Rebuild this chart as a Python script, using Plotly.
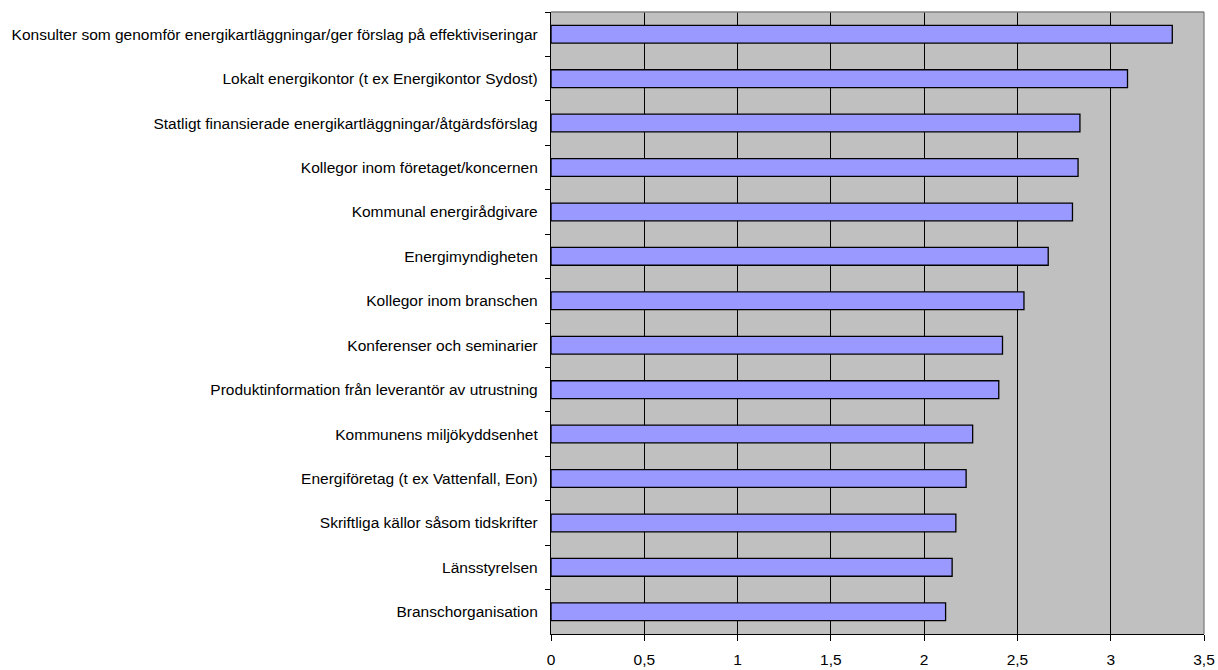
import plotly.graph_objects as go

# Informationskällor, uppifrån och ned
kallor = [
    "Konsulter som genomför energikartläggningar/ger förslag på effektiviseringar",
    "Lokalt energikontor (t ex Energikontor Sydost)",
    "Statligt finansierade energikartläggningar/åtgärdsförslag",
    "Kollegor inom företaget/koncernen",
    "Kommunal energirådgivare",
    "Energimyndigheten",
    "Kollegor inom branschen",
    "Konferenser och seminarier",
    "Produktinformation från leverantör av utrustning",
    "Kommunens miljökyddsenhet",
    "Energiföretag (t ex Vattenfall, Eon)",
    "Skriftliga källor såsom tidskrifter",
    "Länsstyrelsen",
    "Branschorganisation",
]
medelvarde = [3.33, 3.09, 2.835, 2.825, 2.795, 2.665, 2.535, 2.42, 2.40, 2.26, 2.225, 2.17, 2.15, 2.115]

x_ticks = [0, 0.5, 1, 1.5, 2, 2.5, 3, 3.5]

fig = go.Figure(
    go.Bar(
        x=medelvarde,
        y=kallor,
        orientation="h",
        marker=dict(color="#9999FF", line=dict(color="#000000", width=1.3)),
        width=0.4,
    )
)

font = dict(family="Liberation Sans, Arial, sans-serif", size=15.5, color="#000000")

fig.update_layout(
    width=1218,
    height=670,
    margin=dict(l=551, r=14, t=12, b=36),
    paper_bgcolor="#FFFFFF",
    plot_bgcolor="#C0C0C0",
    separators=", ",
    showlegend=False,
    font=font,
)

fig.update_xaxes(
    range=[0, 3.5],
    tickvals=x_ticks,
    automargin=False,
    showgrid=True,
    gridcolor="#000000",
    gridwidth=1,
    zeroline=False,
    showline=True,
    linecolor="#000000",
    linewidth=1.3,
    ticks="outside",
    ticklen=6,
    tickcolor="#000000",
    ticklabelstandoff=5,
    tickfont=font,
)

fig.update_yaxes(
    autorange="reversed",
    type="category",
    tickson="boundaries",
    automargin=False,
    showgrid=False,
    zeroline=False,
    showline=True,
    linecolor="#000000",
    linewidth=1.3,
    ticks="outside",
    ticklen=5,
    tickcolor="#000000",
    ticklabelstandoff=9,
    tickfont=font,
)

# Grå ram längs diagrammets övre och högra kant
fig.add_shape(type="line", xref="paper", yref="paper", x0=0, x1=1, y0=1, y1=1,
              line=dict(color="#808080", width=1.3))
fig.add_shape(type="line", xref="paper", yref="paper", x0=1, x1=1, y0=0, y1=1,
              line=dict(color="#808080", width=1.3))

fig.write_html("out.html")
